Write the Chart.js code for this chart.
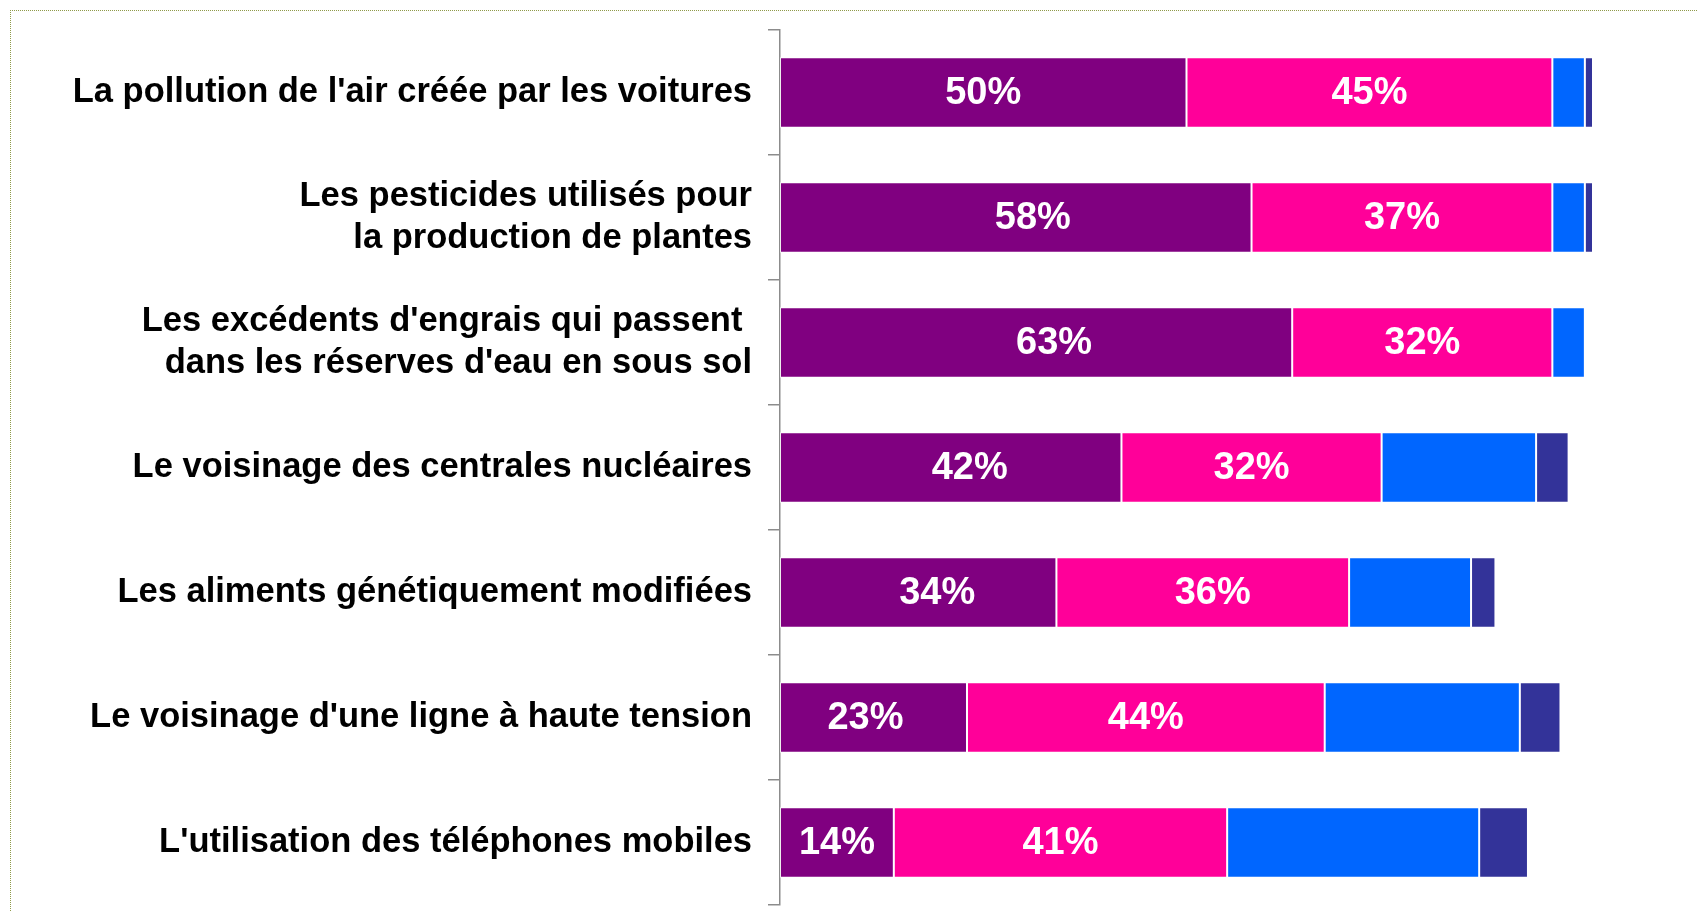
<!DOCTYPE html>
<html><head><meta charset="utf-8">
<script src="https://cdn.jsdelivr.net/npm/chart.js@4"></script>
<style>
html,body{margin:0;padding:0;background:#fff;overflow:hidden;width:1698px;height:912px;}
#frame{position:absolute;left:10px;top:10px;width:1800px;height:1000px;border-top:1px dotted #8f9a4a;border-left:1px dotted #8f9a4a;}
#c{position:absolute;left:0;top:0;}
</style></head><body>
<div id="frame"></div>
<canvas id="c" width="1698" height="912"></canvas>
<script>
const categories = [
  "La pollution de l'air créée par les voitures",
  ["Les pesticides utilisés pour", "la production de plantes"],
  ["Les excédents d'engrais qui passent ", "dans les réserves d'eau en sous sol"],
  "Le voisinage des centrales nucléaires",
  "Les aliments génétiquement modifiées",
  "Le voisinage d'une ligne à haute tension",
  "L'utilisation des téléphones mobiles"
];
const serie1 = [50, 58, 63, 42, 34, 23, 14];
const serie2 = [45, 37, 32, 32, 36, 44, 41];
const serie3 = [4, 4, 4, 19, 15, 24, 31];
const serie4 = [1, 1, 0, 4, 3, 5, 6];
const seriesNames = ["Série 1", "Série 2", "Série 3", "Série 4"];
const seriesColors = ["#800080", "#FF0099", "#0066FF", "#333399"];
const labelledSeries = [0, 1];

const FONT = '"Liberation Sans", Arial, sans-serif';

// small manual nudges of the value labels, as in the original slide
const labelNudge = [
  [0, 17, 18, 19, 19, -8, 0],
  [0, 0, 0, 0, 10, 0, 0]
];

const valueLabels = {
  id: 'valueLabels',
  afterDatasetsDraw(chart) {
    const ctx = chart.ctx;
    ctx.save();
    ctx.font = 'bold 38px ' + FONT;
    ctx.fillStyle = '#ffffff';
    ctx.textAlign = 'center';
    ctx.textBaseline = 'middle';
    labelledSeries.forEach((di, k) => {
      const meta = chart.getDatasetMeta(di);
      meta.data.forEach((bar, i) => {
        const v = chart.data.datasets[di].data[i];
        const cx = (bar.x + bar.base) / 2 + labelNudge[k][i];
        ctx.fillText(v + '%', cx, bar.y + 1);
      });
    });
    ctx.restore();
  }
};

const allSeries = [serie1, serie2, serie3, serie4];
new Chart(document.getElementById('c'), {
  type: 'bar',
  data: {
    labels: categories,
    datasets: allSeries.map((d, i) => ({
      label: seriesNames[i],
      data: d,
      backgroundColor: seriesColors[i],
      borderColor: 'rgba(255,255,255,0.7)',
      borderWidth: 1,
      borderSkipped: false,
      barPercentage: 0.565,
      categoryPercentage: 1
    }))
  },
  options: {
    indexAxis: 'y',
    responsive: false,
    animation: false,
    layout: { padding: { top: 30, bottom: 7, right: 105, left: 0 } },
    plugins: { legend: { display: false }, tooltip: { enabled: false } },
    scales: {
      x: { stacked: true, min: 0, max: 100, display: false },
      y: {
        stacked: true,
        position: 'left',
        grid: { display: true, drawOnChartArea: false, tickLength: 12, color: '#8c8c8c', lineWidth: 1.5, offset: true },
        border: { display: true, color: '#8c8c8c', width: 1.5 },
        ticks: { color: '#000', padding: 16, font: { family: FONT, size: 34.5, weight: 'bold', lineHeight: 1.19 } },
        afterFit(s) { s.width = 780; s.paddingTop = 0; s.paddingBottom = 0; }
      }
    }
  },
  plugins: [valueLabels]
});
</script>
</body></html>
